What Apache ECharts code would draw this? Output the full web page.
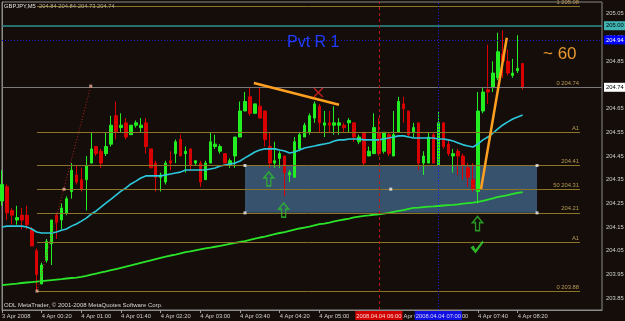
<!DOCTYPE html>
<html><head><meta charset="utf-8">
<script src="https://cdn.jsdelivr.net/npm/echarts/dist/echarts.min.js"></script>
<style>html,body{margin:0;padding:0;background:#150d09;}#c{width:625px;height:321px;}</style>
</head><body><div id="c"></div>
<script>
// ---- data ----
const openP  = [204.26,204.32,204.22,204.18,204.20,204.20,204.14,204.05,203.91,204.01,204.08,204.20,204.18,204.21,204.30,204.37,204.35,204.35,204.42,204.49,204.47,204.46,204.50,204.62,204.57,204.59,204.54,204.58,204.57,204.59,204.48,204.42,204.36,204.34,204.43,204.46,204.52,204.46,204.48,204.42,204.42,204.35,204.42,204.49,204.47,204.46,204.41,204.45,204.53,204.64,204.70,204.63,204.66,204.64,204.49,204.42,204.44,204.45,204.37,204.36,204.48,204.53,204.55,204.61,204.66,204.58,204.59,204.58,204.58,204.58,204.59,204.59,204.51,204.55,204.45,204.46,204.55,204.47,204.54,204.45,204.55,204.67,204.64,204.55,204.59,204.42,204.42,204.54,204.41,204.59,204.50,204.45,204.47,204.45,204.40,204.35,204.30,204.64,204.73,204.74,204.78,204.88,204.85,204.79,204.81,204.84];
const highP  = [204.39,204.33,204.23,204.24,204.23,204.24,204.15,204.06,204.00,204.10,204.18,204.21,204.25,204.28,204.42,204.41,204.40,204.45,204.55,204.49,204.48,204.55,204.62,204.68,204.63,204.61,204.58,204.60,204.61,204.61,204.48,204.43,204.38,204.43,204.47,204.52,204.54,204.49,204.48,204.43,204.43,204.43,204.55,204.54,204.50,204.46,204.44,204.53,204.68,204.72,204.74,204.67,204.74,204.64,204.55,204.51,204.47,204.45,204.39,204.53,204.55,204.59,204.63,204.68,204.67,204.64,204.64,204.66,204.61,204.59,204.61,204.59,204.54,204.55,204.49,204.63,204.61,204.55,204.55,204.64,204.70,204.70,204.64,204.59,204.59,204.47,204.55,204.55,204.64,204.59,204.52,204.48,204.48,204.46,204.42,204.42,204.72,204.74,204.92,204.85,204.97,204.98,204.90,204.86,204.96,204.84];
const lowP   = [204.24,204.18,204.16,204.16,204.14,204.14,204.07,203.88,203.91,204.00,203.99,204.10,204.14,204.20,204.27,204.33,204.30,204.22,204.42,204.45,204.40,204.45,204.49,204.52,204.55,204.52,204.54,204.57,204.55,204.46,204.40,204.30,204.30,204.33,204.39,204.42,204.45,204.38,204.39,204.41,204.32,204.35,204.42,204.48,204.46,204.42,204.40,204.40,204.53,204.64,204.62,204.63,204.61,204.49,204.40,204.40,204.40,204.28,204.34,204.36,204.47,204.53,204.54,204.59,204.55,204.53,204.55,204.54,204.54,204.55,204.55,204.51,204.50,204.41,204.45,204.46,204.45,204.46,204.45,204.45,204.55,204.59,204.53,204.53,204.39,204.37,204.42,204.42,204.41,204.48,204.45,204.38,204.37,204.35,204.32,204.30,204.25,204.63,204.67,204.72,204.77,204.78,204.79,204.78,204.80,204.73];
const closeP = [204.33,204.21,204.20,204.19,204.18,204.16,204.07,203.95,203.99,204.09,204.18,204.17,204.23,204.27,204.39,204.34,204.31,204.41,204.48,204.46,204.42,204.49,204.58,204.55,204.58,204.53,204.58,204.59,204.58,204.49,204.40,204.36,204.37,204.42,204.42,204.51,204.45,204.47,204.41,204.43,204.34,204.42,204.51,204.50,204.49,204.42,204.43,204.53,204.64,204.68,204.63,204.67,204.61,204.52,204.42,204.43,204.46,204.38,204.38,204.51,204.54,204.58,204.62,204.67,204.59,204.59,204.58,204.59,204.59,204.57,204.60,204.53,204.53,204.42,204.47,204.57,204.46,204.55,204.46,204.54,204.68,204.65,204.54,204.57,204.42,204.45,204.53,204.42,204.59,204.49,204.46,204.46,204.45,204.41,204.36,204.31,204.64,204.72,204.72,204.80,204.89,204.85,204.80,204.80,204.82,204.74];
const maFast = [204.150,204.154,204.154,204.154,204.154,204.150,204.142,204.129,204.125,204.125,204.125,204.129,204.137,204.142,204.154,204.163,204.175,204.188,204.205,204.218,204.235,204.252,204.268,204.285,204.302,204.315,204.332,204.344,204.357,204.366,204.366,204.366,204.366,204.370,204.374,204.378,204.382,204.391,204.391,204.391,204.391,204.391,204.395,204.399,204.408,204.412,204.416,204.420,204.429,204.442,204.454,204.467,204.475,204.480,204.480,204.480,204.475,204.471,204.463,204.467,204.475,204.484,204.488,204.492,204.497,204.501,204.505,204.513,204.518,204.518,204.522,204.522,204.522,204.518,204.518,204.518,204.518,204.522,204.526,204.530,204.535,204.535,204.530,204.526,204.526,204.526,204.526,204.526,204.522,204.522,204.518,204.513,204.505,204.497,204.492,204.488,204.501,204.518,204.530,204.547,204.564,204.581,204.594,204.606,204.615,204.623];
const maSlow = [203.905,203.907,203.909,203.911,203.914,203.916,203.918,203.920,203.922,203.924,203.926,203.928,203.930,203.933,203.935,203.937,203.940,203.944,203.949,203.954,203.959,203.963,203.968,203.973,203.978,203.983,203.988,203.994,203.999,204.004,204.009,204.015,204.020,204.025,204.030,204.034,204.039,204.044,204.047,204.052,204.056,204.060,204.063,204.067,204.071,204.075,204.079,204.083,204.087,204.091,204.096,204.101,204.106,204.110,204.115,204.120,204.125,204.129,204.134,204.139,204.144,204.148,204.152,204.157,204.162,204.165,204.169,204.174,204.178,204.182,204.186,204.191,204.194,204.197,204.199,204.202,204.204,204.207,204.210,204.214,204.218,204.222,204.227,204.231,204.232,204.234,204.236,204.237,204.239,204.241,204.243,204.244,204.246,204.249,204.251,204.253,204.256,204.261,204.266,204.271,204.277,204.281,204.285,204.290,204.294,204.298];

const tickLabels = ['3 Apr 2008','4 Apr 00:20','4 Apr 01:00','4 Apr 01:40','4 Apr 02:20','4 Apr 03:00','4 Apr 03:40','4 Apr 04:20','4 Apr 05:00','4 Apr 05:40','4 Apr 06:20','4 Apr 07:00','4 Apr 07:40','4 Apr 08:20'];
const slotCount = 122;   // bar slots on the time axis
const labelEvery = 8;

// fibonacci / level lines: [price, text]
const fibLevels = [[205.08,'1 205.08'],[204.74,'0 204.74'],[204.55,'A1'],[204.41,'204.41'],[204.31,'50 204.31'],[204.21,'204.21'],[204.085,'A1'],[203.88,'0 203.88']];
const fibStartIdx = 7.06, fibEndIdx = 116.56;
const rectBox = [[49.0, 204.41],[107.9, 204.21]];
const vLines = [[76,'2008.04.04 06:00'],[88,'2008.04.04 07:00']];
const trend1 = [[50.8,204.758],[67.96,204.666]];
const trend2 = [[96.6,204.311],[101.8,204.949]];
const fibTrend = [[7.06,203.88],[17.9,204.745]];
const crossPt = [[63.8,204.718]];
const arrowPts = [[53.8,204.353],[56.8,204.222],[95.9,204.165]];
const checkPt = [[95.8,204.066]];
const whiteAnchors = [[49.0,204.41],[49.0,204.21],[107.9,204.41],[107.9,204.21],[78.4,204.31]];
const redAnchors = [[7.06,203.88],[12.5,204.31],[17.9,204.745]];

// ---- build ----
const categories = [];
for (let i = 0; i < slotCount; i++) {
  const k = i / labelEvery;
  categories.push(Number.isInteger(k) && k < tickLabels.length ? tickLabels[k] : 'b' + i);
}
const ohlc = openP.map((o, i) => [o, closeP[i], lowP[i], highP[i]]);
const FONT = 'Liberation Sans';
const lblShow = (idx) => idx % labelEvery === 0 && idx / labelEvery < tickLabels.length;

const fibColor = '#8c7428', fibText = '#b89c58';
const fibLines = fibLevels.map(([p, t]) => [
  {coord: [fibStartIdx, p], lineStyle: {color: fibColor, width: 1, type: 'solid'},
   label: {show: true, position: 'insideEndTop', formatter: t, color: fibText, fontSize: 5.8, fontFamily: FONT, distance: 1}},
  {coord: [fibEndIdx, p]}
]);
const boxLabel = (txt, bg, fg) => ({show: true, position: 'end', formatter: txt, backgroundColor: bg, color: fg,
  fontSize: 5.8, fontFamily: FONT, padding: [2, 2, 1, 2], distance: 2});

const chart = echarts.init(document.getElementById('c'), null, {renderer: 'canvas'});
chart.setOption({
  animation: false,
  backgroundColor: '#150d09',
  grid: {left: 2, top: 2, width: 600, height: 308, show: true, borderColor: '#8a8a8a', borderWidth: 1, containLabel: false, outerBoundsMode: 'none'},
  xAxis: [
    {type: 'category', data: categories, boundaryGap: false,
     axisLine: {show: true, lineStyle: {color: '#8a8a8a'}},
     axisTick: {show: true, interval: (i) => lblShow(i), length: 3, lineStyle: {color: '#9a9a9a'}},
     axisLabel: {interval: (i) => lblShow(i), align: 'left', fontSize: 5.8, fontFamily: FONT, color: '#d0d0d0', margin: 3, hideOverlap: false},
     splitLine: {show: false}},
    {type: 'value', min: 0, max: slotCount - 1, show: false, gridIndex: 0}
  ],
  yAxis: [{type: 'value', position: 'right', min: 203.80, max: 205.10, interval: 0.05, scale: true,
    axisLine: {show: true, lineStyle: {color: '#8a8a8a'}},
    axisTick: {show: false},
    splitLine: {show: false},
    axisLabel: {fontSize: 5.8, fontFamily: FONT, color: '#d0d0d0', margin: 4, showMinLabel: false, showMaxLabel: false,
      formatter: (v) => { const k = Math.round(v * 100); return k % 10 === 5 ? (k / 100).toFixed(2) : ''; }}
  }],
  graphic: [
    {type: 'text', left: 4, top: 3, z: 100, style: {text: 'GBPJPY,M5', fill: '#e0e0e0', font: '5.8px "Liberation Sans"'}},
    {type: 'text', left: 39, top: 3, z: 100, style: {text: '204.84 204.84 204.73 204.74', fill: '#b4ac94', font: '5.8px "Liberation Sans"'}},
    {type: 'text', left: 4, top: 302, z: 100, style: {text: 'ODL MetaTrader, \u00a9 2001-2008 MetaQuotes Software Corp.', fill: '#d8d8d8', font: '6px "Liberation Sans"'}},
    {type: 'text', left: 287, top: 35, z: 100, style: {text: 'Pvt R 1', fill: '#1f3cff', font: '16px "Liberation Sans"'}},
    {type: 'text', left: 543, top: 46, z: 100, style: {text: '~ 60', fill: '#e8982e', font: '17px "Liberation Sans"'}}
  ],
  series: [
    {type: 'line', xAxisIndex: 1, yAxisIndex: 0, data: [], z: 1, silent: true,
     markArea: {silent: true, itemStyle: {color: '#37526c'}, data: [[{coord: rectBox[0]}, {coord: rectBox[1]}]]},
     markLine: {silent: true, symbol: ['none', 'none'], data: [
       ...fibLines,
       {yAxis: 204.74, lineStyle: {color: '#7a7a7a', width: 1, type: 'solid'}, label: boxLabel('204.74', '#ffffff', '#000000')},
       {yAxis: 205.00, lineStyle: {color: '#2f8f8f', width: 1.5, type: 'solid'}, label: boxLabel('205.00', '#40b4b4', '#000000')},
       {yAxis: 204.935, lineStyle: {color: '#1c1cd8', width: 1, type: [1, 2]}, label: boxLabel('204.94', '#0000ff', '#ffffff')},
       {xAxis: vLines[0][0], lineStyle: {color: '#b81818', width: 1, type: [3, 3]},
        label: {show: true, position: 'start', formatter: vLines[0][1], backgroundColor: '#d00000', color: '#ffd8d8', fontSize: 5.8, fontFamily: FONT, padding: [2, 1, 1, 1], distance: 1}},
       {xAxis: vLines[1][0], lineStyle: {color: '#2020e0', width: 1, type: [1, 2]},
        label: {show: true, position: 'start', formatter: vLines[1][1], backgroundColor: '#1010e0', color: '#d8d8ff', fontSize: 5.8, fontFamily: FONT, padding: [2, 1, 1, 1], distance: 1}},
       [{coord: fibTrend[0], lineStyle: {color: '#b02525', width: 1, type: [1, 2]}, label: {show: false}}, {coord: fibTrend[1]}]
     ]}},
    {type: 'candlestick', xAxisIndex: 0, yAxisIndex: 0, data: ohlc, barWidth: 3, z: 3, silent: true,
     itemStyle: {color: '#22ee22', color0: '#d80000', borderColor: '#22ee22', borderColor0: '#d80000', borderColorDoji: '#22ee22', borderWidth: 1}},
    {type: 'line', xAxisIndex: 0, yAxisIndex: 0, data: maFast, z: 4, symbol: 'none', silent: true, lineStyle: {color: '#2cc8dc', width: 1.6}},
    {type: 'line', xAxisIndex: 0, yAxisIndex: 0, data: maSlow, z: 4, symbol: 'none', silent: true, lineStyle: {color: '#2ae42a', width: 1.8}},
    {type: 'line', xAxisIndex: 1, yAxisIndex: 0, data: [], z: 6, silent: true,
     markLine: {silent: true, symbol: ['none', 'none'], label: {show: false}, data: [
       [{coord: trend1[0], lineStyle: {color: '#ffa020', width: 2.5, type: 'solid'}}, {coord: trend1[1]}],
       [{coord: trend2[0], lineStyle: {color: '#ffa020', width: 2.5, type: 'solid'}}, {coord: trend2[1]}]
     ]}},
    {type: 'scatter', xAxisIndex: 1, yAxisIndex: 0, data: crossPt, z: 7, silent: true,
     symbol: 'path://M1,0 L5,4 L9,0 L10,1 L6,5 L10,9 L9,10 L5,6 L1,10 L0,9 L4,5 L0,1 Z', symbolSize: 10, itemStyle: {color: '#e52222'}},
    {type: 'scatter', xAxisIndex: 1, yAxisIndex: 0, data: arrowPts, z: 7, silent: true,
     symbol: 'path://M5,0 L10,6 L7,6 L7,14 L3,14 L3,6 L0,6 Z', symbolSize: [10, 14],
     itemStyle: {color: 'rgba(0,0,0,0)', borderColor: '#2cbc2c', borderWidth: 1.5}},
    {type: 'scatter', xAxisIndex: 1, yAxisIndex: 0, data: checkPt, z: 7, silent: true,
     symbol: 'path://M0,7 L3,5 L5,9 L12,0 L13,2 L5,13 Z', symbolSize: [13, 13], itemStyle: {color: '#33e033'}},
    {type: 'scatter', xAxisIndex: 1, yAxisIndex: 0, data: whiteAnchors, z: 7, silent: true,
     symbol: 'rect', symbolSize: 3, itemStyle: {color: '#f0f0f0'}},
    {type: 'scatter', xAxisIndex: 1, yAxisIndex: 0, data: redAnchors, z: 7, silent: true,
     symbol: 'rect', symbolSize: 3, itemStyle: {color: '#f0b0a0'}}
  ]
});
</script></body></html>
